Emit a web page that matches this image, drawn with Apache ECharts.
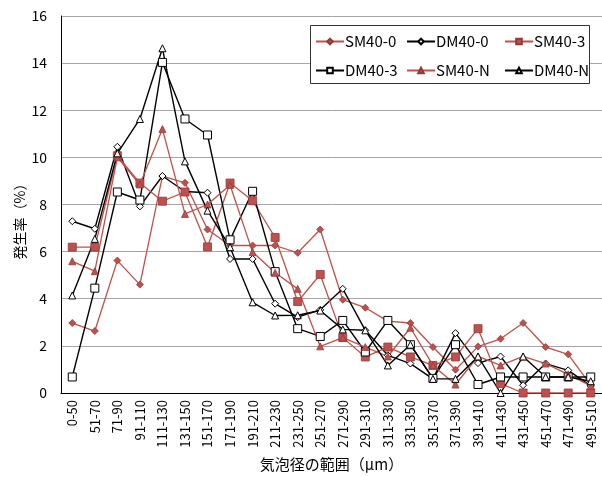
<!DOCTYPE html>
<html>
<head>
<meta charset="utf-8">
<script src="https://cdn.jsdelivr.net/npm/echarts@6/dist/echarts.min.js"></script>
<style>
  html, body { margin: 0; padding: 0; background: #fff; }
  #chart { width: 602px; height: 477px; }
</style>
</head>
<body>
<div id="chart"></div>
<script>
// Bubble-size classes (µm)
const categories = ['0-50', '51-70', '71-90', '91-110', '111-130', '131-150', '151-170', '171-190',
  '191-210', '211-230', '231-250', '251-270', '271-290', '291-310', '311-330', '331-350',
  '351-370', '371-390', '391-410', '411-430', '431-450', '451-470', '471-490', '491-510'];

// Occurrence rate (%) per size class
const sm40_0 = [2.97, 2.63, 5.62, 4.60, 9.20, 8.92, 6.94, 6.26, 6.26, 6.26, 5.95, 6.94,
  3.96, 3.62, 3.05, 2.97, 1.95, 0.99, 1.97, 2.30, 2.97, 1.95, 1.64, 0.33];
const dm40_0 = [7.29, 6.97, 10.45, 7.92, 9.21, 8.55, 8.50, 5.69, 5.69, 3.79, 3.22, 3.53,
  4.42, 2.66, 1.60, 1.25, 0.60, 2.54, 1.27, 1.55, 0.33, 1.25, 0.96, 0.30];
const sm40_3 = [6.19, 6.19, 10.07, 8.91, 8.14, 8.53, 6.20, 8.91, 8.16, 6.60, 3.88, 5.03,
  2.35, 1.53, 1.95, 1.53, 1.17, 1.53, 2.73, 0.40, 0, 0, 0, 0];
const dm40_3 = [0.68, 4.45, 8.53, 8.19, 14.03, 11.63, 10.95, 6.50, 8.56, 5.15, 2.73, 2.40,
  3.08, 1.74, 3.08, 2.05, 0.62, 2.05, 0.36, 0.68, 0.68, 0.68, 0.68, 0.68];
const sm40_n = [5.59, 5.17, 10.00, 8.85, 11.20, 7.60, 8.00, 8.83, 5.98, 5.10, 4.42, 1.98,
  2.35, 1.95, 1.55, 2.77, 1.17, 0.36, 1.55, 1.17, 1.55, 1.25, 0.79, 0.30];
const dm40_n = [4.14, 6.54, 10.17, 11.63, 14.63, 9.83, 7.74, 6.19, 3.85, 3.29, 3.30, 3.50,
  2.70, 2.66, 1.17, 2.05, 0.60, 0.60, 1.55, 0, 1.55, 0.68, 0.68, 0.50];

const seriesNames = ['SM40-0', 'DM40-0', 'SM40-3', 'DM40-3', 'SM40-N', 'DM40-N'];
const yTicks = { min: 0, max: 16, step: 2 };

const FONT = '"Noto Sans CJK JP", "Noto Sans", sans-serif';
const RED = '#C0504D';
const RED_EDGE = '#8E3B39';

function line(name, data, filled, symbol, size) {
  return {
    name: name,
    type: 'line',
    data: data,
    symbol: symbol,
    symbolSize: size,
    showSymbol: true,
    lineStyle: { color: filled ? RED : '#000', width: filled ? 1.3 : 1.4 },
    itemStyle: filled
      ? { color: RED, borderColor: RED_EDGE, borderWidth: 0.8 }
      : { color: '#fff', borderColor: '#000', borderWidth: 1 },
    emphasis: { disabled: true },
    animation: false
  };
}

// Legend: one entry per slot, two rows of three inside a framed box
const legendCols = [315, 406, 504];
const legendRows = [34, 63];
const legends = seriesNames.map(function (name, i) {
  return {
    left: legendCols[i % 3],
    top: legendRows[Math.floor(i / 3)],
    padding: 0,
    itemWidth: 28, itemHeight: 7,
    itemGap: 0,
    z: 6,
    textStyle: { fontFamily: FONT, fontSize: 15, color: '#000', padding: [0, 0, 0, -4] },
    data: [name]
  };
});

const chart = echarts.init(document.getElementById('chart'), null, { renderer: 'canvas' });
chart.setOption({
  backgroundColor: '#fff',
  animation: false,
  textStyle: { fontFamily: FONT },
  grid: { left: 61, top: 16, width: 543, height: 377 },
  legend: legends,
  xAxis: {
    type: 'category',
    data: categories,
    boundaryGap: true,
    name: '気泡径の範囲（μm）',
    nameLocation: 'middle',
    nameGap: 64,
    nameTextStyle: { fontFamily: FONT, fontSize: 15, color: '#000' },
    axisLine: { lineStyle: { color: '#000', width: 1 } },
    axisTick: { show: false },
    axisLabel: { rotate: 90, interval: 0, fontFamily: FONT, fontSize: 13, color: '#000', margin: 7 },
    splitLine: { show: false }
  },
  yAxis: {
    type: 'value',
    min: yTicks.min, max: yTicks.max, interval: yTicks.step,
    axisLine: { show: true, lineStyle: { color: '#000', width: 1 } },
    axisTick: { show: false },
    axisLabel: { fontFamily: FONT, fontSize: 14, color: '#000', margin: 14 },
    splitLine: { lineStyle: { color: '#A6A6A6', width: 1 } }
  },
  graphic: [{
    type: 'rect',
    z: 5,
    shape: { x: 310.5, y: 25.5, width: 279, height: 58 },
    style: { fill: '#fff', stroke: '#333', lineWidth: 1 }
  }, {
    type: 'text',
    x: 20, y: 218,
    rotation: Math.PI / 2,
    style: {
      text: '発生率（%）',
      font: '14px ' + FONT,
      fill: '#000',
      textAlign: 'center',
      textVerticalAlign: 'middle'
    }
  }],
  series: [
    line('SM40-0', sm40_0, true, 'diamond', 7),
    line('DM40-0', dm40_0, false, 'diamond', 7),
    line('SM40-3', sm40_3, true, 'rect', 8),
    line('DM40-3', dm40_3, false, 'rect', 8),
    line('SM40-N', sm40_n, true, 'triangle', 7),
    line('DM40-N', dm40_n, false, 'triangle', 7)
  ]
});
</script>
</body>
</html>
